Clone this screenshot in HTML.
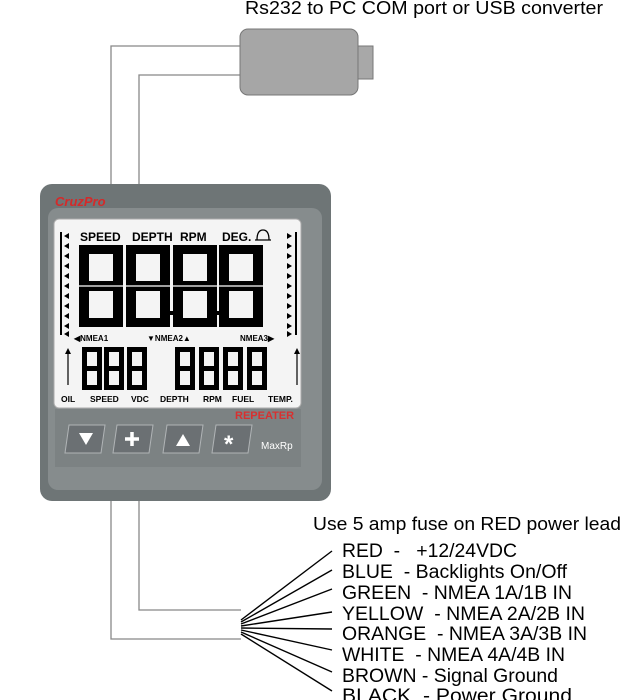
<!DOCTYPE html>
<html><head><style>
html,body{margin:0;padding:0;background:#fff;}
svg{display:block;}
text{font-family:"Liberation Sans",Arial,sans-serif;white-space:pre;}
</style></head><body>
<svg width="622" height="700" viewBox="0 0 622 700" xmlns="http://www.w3.org/2000/svg">
<defs>
<g id="d8b">
<path d="M0,0 H44 V82 H0 Z M10,9 V36 H34 V9 Z M10,46 V73 H34 V46 Z" fill="#000" fill-rule="evenodd"/>
<path d="M0,41 H44" stroke="#fff" stroke-width="1.2"/>
</g>
<g id="d8s">
<path d="M0,0 H20 V43 H0 Z M5,5 V19 H15 V5 Z M5,24 V38 H15 V24 Z" fill="#000" fill-rule="evenodd"/>
</g>
</defs>
<rect width="622" height="700" fill="#fff"/>
<text x="245" y="14" font-size="18" textLength="358" lengthAdjust="spacingAndGlyphs">Rs232 to PC COM port or USB converter</text>
<path d="M111,185 V46 H240 M139,185 V75 H240" fill="none" stroke="#888" stroke-width="1.3"/>
<rect x="357" y="46" width="16" height="33" fill="#a8a8a8" stroke="#777"/>
<rect x="240" y="29" width="118" height="66" rx="8" fill="#a6a6a6" stroke="#777"/>
<path d="M111,500 V639 H241 M139,500 V610 H241" fill="none" stroke="#888" stroke-width="1.3"/>
<rect x="40" y="184" width="291" height="317" rx="12" fill="#6e7576"/>
<rect x="48" y="208" width="274" height="282" rx="10" fill="#868c8d"/>
<text x="55" y="206" font-size="13" font-style="italic" font-weight="bold" fill="#d42a2a" font-family="Liberation Serif">CruzPro</text>
<rect x="54" y="219" width="247" height="189" rx="5" fill="#f4f4f4" stroke="#aaa"/>
<rect x="55" y="409" width="246" height="58" fill="#7c8283"/>
<g font-weight="bold" font-size="12">
<text x="80" y="241">SPEED</text><text x="132" y="241">DEPTH</text><text x="180" y="241">RPM</text><text x="222" y="241">DEG.</text>
</g>
<path d="M257,240 q0,-10 6,-10 q6,0 6,10 h2 h-16z" fill="none" stroke="#000" stroke-width="1.3"/>
<g fill="#000">
<rect x="60" y="232" width="2" height="103"/><rect x="295" y="232" width="2" height="103"/>
</g>
<g fill="#000">
<path d="M64,236 l5,-3 v6z M64,246 l5,-3 v6z M64,256 l5,-3 v6z M64,266 l5,-3 v6z M64,276 l5,-3 v6z M64,286 l5,-3 v6z M64,296 l5,-3 v6z M64,306 l5,-3 v6z M64,316 l5,-3 v6z M64,326 l5,-3 v6z M64,334 l5,-3 v6z"/>
<path d="M292,236 l-5,-3 v6z M292,246 l-5,-3 v6z M292,256 l-5,-3 v6z M292,266 l-5,-3 v6z M292,276 l-5,-3 v6z M292,286 l-5,-3 v6z M292,296 l-5,-3 v6z M292,306 l-5,-3 v6z M292,316 l-5,-3 v6z M292,326 l-5,-3 v6z M292,334 l-5,-3 v6z"/>
</g>
<use href="#d8b" x="79" y="245"/>
<use href="#d8b" x="126" y="245"/>
<use href="#d8b" x="173" y="245"/>
<use href="#d8b" x="219" y="245"/>
<rect x="170" y="311" width="4" height="4" fill="#000"/><rect x="215" y="311" width="4" height="4" fill="#000"/>
<g font-weight="bold" font-size="8">
<text x="74" y="341">◀NMEA1</text><text x="147" y="341">▼NMEA2▲</text><text x="240" y="341">NMEA3▶</text>
</g>
<path d="M68,385 V350 M297,385 V350" stroke="#000" stroke-width="1.2"/>
<path d="M65,354 l3,-6 l3,6z M294,354 l3,-6 l3,6z" fill="#000"/>
<use href="#d8s" x="82" y="347"/><use href="#d8s" x="104" y="347"/><use href="#d8s" x="127" y="347"/>
<use href="#d8s" x="175" y="347"/><use href="#d8s" x="199" y="347"/><use href="#d8s" x="223" y="347"/><use href="#d8s" x="247" y="347"/>
<g font-weight="bold" font-size="8.5">
<text x="61" y="402">OIL</text><text x="90" y="402">SPEED</text><text x="131" y="402">VDC</text><text x="160" y="402">DEPTH</text><text x="203" y="402">RPM</text><text x="232" y="402">FUEL</text><text x="268" y="402">TEMP.</text>
</g>
<text x="235" y="419" font-size="11" font-weight="bold" fill="#d83030">REPEATER</text>
<g fill="#6b7073" stroke="#b0b4b6" stroke-width="1">
<path d="M69,425 H105 L101,453 H65 Z"/>
<path d="M117,425 H153 L149,453 H113 Z"/>
<path d="M167,425 H203 L199,453 H163 Z"/>
<path d="M216,425 H252 L248,453 H212 Z"/>
</g>
<path d="M79,433 h14 l-7,12z" fill="#fff"/>
<path d="M132,432 v14 M125,439 h14" stroke="#fff" stroke-width="3.5"/>
<path d="M176,446 h14 l-7,-12z" fill="#fff"/>
<text x="224" y="452" font-size="24" font-weight="bold" fill="#fff">*</text>
<text x="261" y="449" font-size="10" fill="#fff">MaxRp</text>
<g stroke="#000" stroke-width="1.4">
<line x1="241" y1="620" x2="332" y2="551"/>
<line x1="241" y1="622" x2="332" y2="570"/>
<line x1="241" y1="624" x2="332" y2="589"/>
<line x1="241" y1="626" x2="332" y2="612"/>
<line x1="241" y1="628" x2="332" y2="629"/>
<line x1="241" y1="630" x2="332" y2="650"/>
<line x1="241" y1="632" x2="332" y2="672"/>
<line x1="241" y1="634" x2="332" y2="691"/>
</g>
<text x="313" y="530" font-size="18" textLength="308" lengthAdjust="spacingAndGlyphs">Use 5 amp fuse on RED power lead</text>
<g font-size="19">
<text x="342" y="557" textLength="175" lengthAdjust="spacingAndGlyphs">RED  -   +12/24VDC</text>
<text x="342" y="578" textLength="225" lengthAdjust="spacingAndGlyphs">BLUE  - Backlights On/Off</text>
<text x="342" y="599" textLength="230" lengthAdjust="spacingAndGlyphs">GREEN  - NMEA 1A/1B IN</text>
<text x="342" y="620" textLength="243" lengthAdjust="spacingAndGlyphs">YELLOW  - NMEA 2A/2B IN</text>
<text x="342" y="640" textLength="245" lengthAdjust="spacingAndGlyphs">ORANGE  - NMEA 3A/3B IN</text>
<text x="342" y="661" textLength="223" lengthAdjust="spacingAndGlyphs">WHITE  - NMEA 4A/4B IN</text>
<text x="342" y="682" textLength="216" lengthAdjust="spacingAndGlyphs">BROWN - Signal Ground</text>
<text x="342" y="702" textLength="230" lengthAdjust="spacingAndGlyphs">BLACK  - Power Ground</text>
</g>
</svg>
</body></html>
